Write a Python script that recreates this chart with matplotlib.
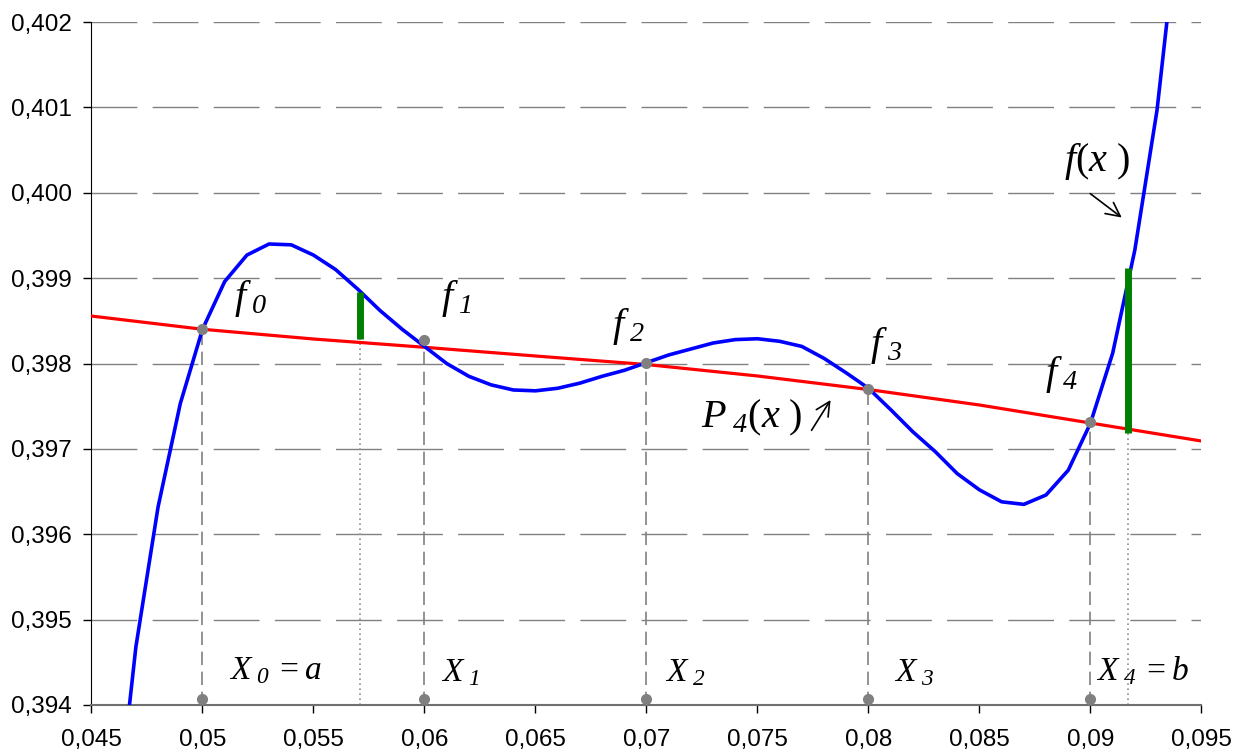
import numpy as np
import matplotlib
matplotlib.use("Agg")
import matplotlib.pyplot as plt
from matplotlib.ticker import FuncFormatter

plt.rcParams['font.family'] = ['Liberation Sans', 'DejaVu Sans']
# Times-like italic in the formulas, digits included; upright serif via \mathsf
plt.rcParams['mathtext.fontset'] = 'custom'
plt.rcParams['mathtext.it'] = 'Liberation Serif:italic'
plt.rcParams['mathtext.rm'] = 'Liberation Serif:italic'
plt.rcParams['mathtext.cal'] = 'Liberation Serif:italic'
plt.rcParams['mathtext.sf'] = 'Liberation Serif'

# f(x) sampled every 0.001 from 0.046 to 0.094
f_x = np.linspace(0.046, 0.094, 49)
f_y = [0.39232, 0.39468, 0.39632, 0.39753, 0.39840, 0.39896, 0.39927, 0.39940,
       0.39939, 0.39927, 0.39910, 0.39887, 0.39862, 0.39840, 0.39820, 0.39800,
       0.39785, 0.39775, 0.39769, 0.39768, 0.39771, 0.39777, 0.39785, 0.39792,
       0.39801, 0.39810, 0.39817, 0.39824, 0.39828, 0.39829, 0.39826, 0.39820,
       0.39806, 0.39789, 0.39771, 0.39746, 0.39720, 0.39697, 0.39671, 0.39652,
       0.39638, 0.39635, 0.39646, 0.39675, 0.39730, 0.39812, 0.39933, 0.40097,
       0.40330]

# interpolation polynomial P4(x)
p_x = [0.045, 0.050, 0.055, 0.060, 0.065, 0.070, 0.075, 0.080, 0.085, 0.090, 0.095]
p_y = [0.398556, 0.398401, 0.398287, 0.398190, 0.398088, 0.397988, 0.397854,
       0.397695, 0.397514, 0.397303, 0.397092]

# nodes
node_x = [0.05, 0.06, 0.07, 0.08, 0.09]
node_y = [0.39840, 0.39828, 0.39801, 0.39770, 0.39731]
node_base = 0.39407

# error bars (green)
err_x = [0.0571, 0.0917]
err_lo = [0.398283, 0.397182]
err_hi = [0.398841, 0.399119]

x_ticks = [0.045, 0.05, 0.055, 0.06, 0.065, 0.07, 0.075, 0.08, 0.085, 0.09, 0.095]
y_ticks = [0.394, 0.395, 0.396, 0.397, 0.398, 0.399, 0.400, 0.401, 0.402]

fig = plt.figure(figsize=(12.48, 7.54), dpi=100)
ax = fig.add_axes([0.0733, 0.065, 0.8894, 0.9058])

for y in y_ticks[1:]:
    ax.axhline(y, color='#808080', lw=1, dashes=(33, 11), zorder=1)

# vertical guides
ax.vlines(node_x, 0.394, node_y, colors='#808080', lw=1.2, linestyles=(0, (8, 4)), zorder=2)
ax.vlines(err_x, 0.394, err_lo, colors='#909090', lw=1.2, linestyles=(0, (1, 2)), zorder=2)

ax.plot(p_x, p_y, color='#ff0000', lw=2.3, zorder=3)
ax.plot(f_x, f_y, color='#0000ff', lw=2.6, zorder=4)
ax.vlines(err_x, err_lo, err_hi, colors='#008000', lw=5, zorder=5)

ax.plot(node_x, node_y, 'o', color='#808080', ms=7, zorder=6)
ax.plot(node_x, [node_base] * 5, 'o', color='#808080', ms=7, zorder=6, clip_on=False)

# labels
serif = dict(family='Liberation Serif', color='black', ha='center', va='center')
f_labels = [r'$f_{\ 0}$', r'$f_{\ 1}$', r'$f_{\ 2}$', r'$f_{\ 3}$', r'$f_{\ 4}$']
f_pos = [(0.05220, 0.39876), (0.06146, 0.39876), (0.06921, 0.39843),
         (0.08083, 0.39821), (0.08872, 0.39787)]
for lab, (tx, ty) in zip(f_labels, f_pos):
    ax.text(tx, ty, lab, fontsize=29, **serif)

x_labels = [r'$X_{\ 0}\,{=}a$', r'$X_{\ 1}$', r'$X_{\ 2}$', r'$X_{\ 3}$', r'$X_{\ 4}\,{=}b$']
x_pos = [(0.05328, 0.39440), (0.06160, 0.39438), (0.07173, 0.39438),
         (0.08205, 0.39438), (0.09237, 0.39440)]
for lab, (tx, ty) in zip(x_labels, x_pos):
    ax.text(tx, ty, lab, fontsize=24, **serif)

ax.text(0.09029, 0.40037, r'$f\mathsf{(}x\ \mathsf{)}$', fontsize=29, **serif)
ax.text(0.07475, 0.39736, r'$P_{\ 4}\mathsf{(}x\ \mathsf{)}$', fontsize=29, **serif)

arrow = dict(arrowstyle='->', color='black', lw=1.2, mutation_scale=25)
ax.annotate('', xy=(0.09151, 0.39969), xytext=(0.08989, 0.40001), arrowprops=arrow)
ax.annotate('', xy=(0.07836, 0.39760), xytext=(0.07737, 0.39719), arrowprops=arrow)

ax.set_xlim(0.045, 0.095)
ax.set_ylim(0.394, 0.402)
ax.set_xticks(x_ticks)
ax.set_yticks(y_ticks)
ax.xaxis.set_major_formatter(FuncFormatter(lambda v, p: f'{round(v, 4):g}'.replace('.', ',')))
ax.yaxis.set_major_formatter(FuncFormatter(lambda v, p: f'{v:.3f}'.replace('.', ',')))
ax.tick_params(labelsize=17.5, direction='out', length=6, width=1, pad=8)
ax.tick_params(axis='x', pad=11)

for s in ['top', 'right']:
    ax.spines[s].set_visible(False)
ax.spines['left'].set_color('black')
ax.spines['bottom'].set_color('#707070')
ax.spines['bottom'].set_linewidth(1.5)

plt.savefig('out.png', dpi=100)
